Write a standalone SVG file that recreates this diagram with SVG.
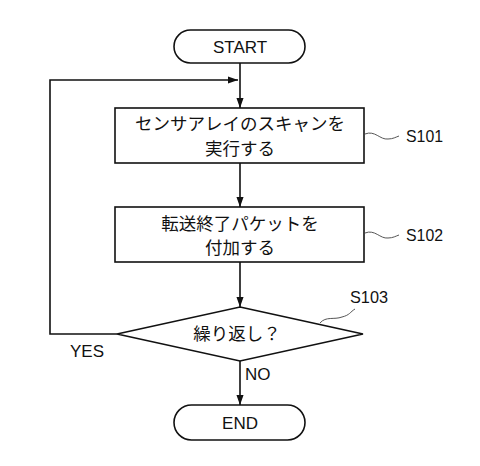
<svg xmlns="http://www.w3.org/2000/svg" width="480" height="466" viewBox="0 0 480 466">
<style>
.s{fill:#fff;stroke:#111;stroke-width:1.6}
.l{fill:none;stroke:#111;stroke-width:1.6}
.w{fill:none;stroke:#555;stroke-width:1}
.t{font-family:"Liberation Sans","Noto Sans CJK JP",sans-serif;font-size:17px;fill:#111;text-anchor:middle}
.j{font-family:"Noto Sans CJK JP",sans-serif;font-size:17.5px;fill:#111;text-anchor:middle}
.lb{font-family:"Liberation Sans",sans-serif;font-size:17px;fill:#111}
</style>
<defs>
<marker id="a" markerWidth="10" markerHeight="14" refX="14" refY="5" viewBox="0 0 14 10" orient="auto" markerUnits="userSpaceOnUse">
<path d="M0,0 L14,5 L0,10 Z" fill="#111"/>
</marker>
</defs>
<rect width="480" height="466" fill="#fff"/>
<g id="connectors">
<line class="l" x1="240" y1="63" x2="240" y2="108" marker-end="url(#a)"/>
<polyline class="l" points="117,334 50,334 50,80 238,80" marker-end="url(#a)"/>
<line class="l" x1="240" y1="163" x2="240" y2="207" marker-end="url(#a)"/>
<line class="l" x1="240" y1="262" x2="240" y2="307" marker-end="url(#a)"/>
<line class="l" x1="240" y1="361" x2="240" y2="405" marker-end="url(#a)"/>
<text class="lb" x="70" y="357">YES</text>
<text class="lb" x="245" y="380">NO</text>
</g>
<g id="start">
<rect class="s" x="174" y="30" width="131" height="33" rx="16.5"/>
<text class="t" x="240" y="53">START</text>
</g>
<g id="s101">
<rect class="s" x="115" y="108" width="249" height="55"/>
<text class="j" x="240" y="130">センサアレイのスキャンを</text>
<text class="j" x="240" y="155">実行する</text>
<path class="w" d="M365,134 C375,130 380,140 388,139 C393,139 396,137 399,136"/>
<text class="lb" x="406" y="142" textLength="37" lengthAdjust="spacingAndGlyphs">S101</text>
</g>
<g id="s102">
<rect class="s" x="115" y="207" width="249" height="55"/>
<text class="j" x="240" y="230">転送終了パケットを</text>
<text class="j" x="240" y="254">付加する</text>
<path class="w" d="M365,233 C375,229 380,239 388,238 C393,238 396,236 399,235"/>
<text class="lb" x="406" y="241" textLength="37" lengthAdjust="spacingAndGlyphs">S102</text>
</g>
<g id="s103">
<polygon class="s" points="240,307 363,334 240,361 117,334"/>
<text class="j" x="237" y="340">繰り返し？</text>
<path class="w" d="M320,323 C326,316 334,320 342,317 C350,315 350,312 355,309"/>
<text class="lb" x="350" y="303" textLength="38" lengthAdjust="spacingAndGlyphs">S103</text>
</g>
<g id="end">
<rect class="s" x="174" y="405" width="131" height="35" rx="17.5"/>
<text class="t" x="240" y="429">END</text>
</g>
</svg>
